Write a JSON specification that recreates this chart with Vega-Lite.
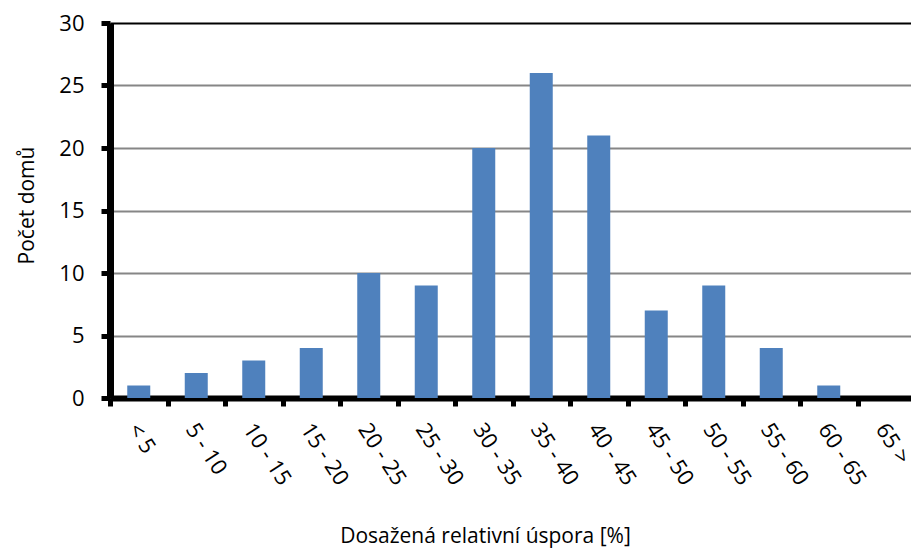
{
  "$schema": "https://vega.github.io/schema/vega-lite/v6.json",
  "width": 801,
  "height": 375,
  "autosize": {"type": "none"},
  "padding": {"left": 110, "top": 23, "right": 0, "bottom": 150},
  "background": "white",
  "data": {
    "values": [
      {"kategorie": "< 5", "pocet": 1},
      {"kategorie": "5 - 10", "pocet": 2},
      {"kategorie": "10 - 15", "pocet": 3},
      {"kategorie": "15 - 20", "pocet": 4},
      {"kategorie": "20 - 25", "pocet": 10},
      {"kategorie": "25 - 30", "pocet": 9},
      {"kategorie": "30 - 35", "pocet": 20},
      {"kategorie": "35 - 40", "pocet": 26},
      {"kategorie": "40 - 45", "pocet": 21},
      {"kategorie": "45 - 50", "pocet": 7},
      {"kategorie": "50 - 55", "pocet": 9},
      {"kategorie": "55 - 60", "pocet": 4},
      {"kategorie": "60 - 65", "pocet": 1},
      {"kategorie": "65 >", "pocet": 0}
    ]
  },
  "mark": {"type": "bar", "color": "#4F81BD", "width": {"band": 0.4}},
  "encoding": {
    "x": {
      "field": "kategorie",
      "type": "nominal",
      "sort": null,
      "scale": {"range": [0, 805], "paddingInner": 0, "paddingOuter": 0},
      "axis": {
        "title": "Dosažená relativní úspora [%]",
        "labelAngle": 57,
        "labelAlign": "left",
        "labelBaseline": "middle",
        "labelPadding": 19,
        "labelOffset": -6,
        "labelFontSize": 22,
        "labelOverlap": false,
        "labelBound": false,
        "labelFlush": false,
        "tickBand": "extent",
        "tickSize": 8,
        "tickWidth": 5,
        "tickColor": "#000000",
        "domainWidth": 6,
        "domainColor": "#000000",
        "titleX": 375,
        "titleY": 144,
        "titleAlign": "center",
        "titleBaseline": "alphabetic"
      }
    },
    "y": {
      "field": "pocet",
      "type": "quantitative",
      "scale": {"domain": [0, 30], "nice": false},
      "axis": {
        "title": "Počet domů",
        "values": [0, 5, 10, 15, 20, 25, 30],
        "grid": true,
        "gridColor": {"condition": {"test": "datum.value === 30", "value": "#000000"}, "value": "#868686"},
        "gridWidth": 2,
        "tickSize": 9,
        "tickWidth": 5,
        "tickColor": "#000000",
        "domainWidth": 7,
        "domainColor": "#000000",
        "labelPadding": 17,
        "labelFontSize": 22,
        "titleAngle": -90,
        "titleX": -77,
        "titleY": 182,
        "titleAlign": "center",
        "titleBaseline": "alphabetic"
      }
    }
  },
  "config": {
    "view": {"stroke": null},
    "font": "Open Sans",
    "axis": {
      "labelFont": "Open Sans",
      "titleFont": "Open Sans",
      "titleFontSize": 21,
      "titleFontWeight": "normal",
      "labelColor": "#000000",
      "titleColor": "#000000"
    }
  }
}
